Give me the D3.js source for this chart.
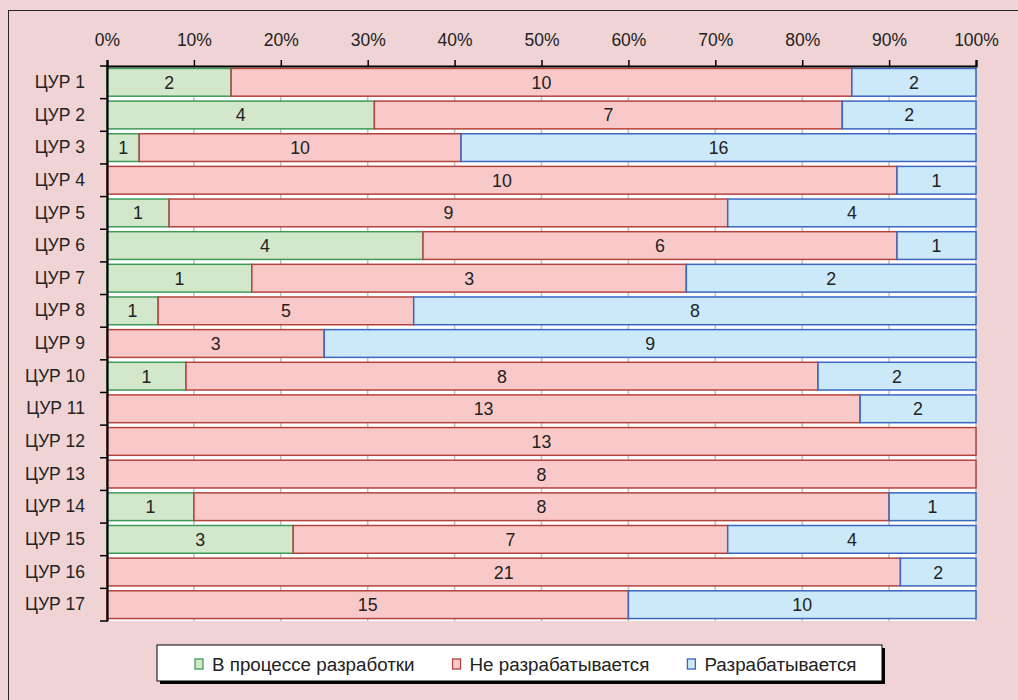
<!DOCTYPE html>
<html>
<head>
<meta charset="utf-8">
<script src="https://cdn.jsdelivr.net/npm/d3@7/dist/d3.min.js"></script>
<style>
  html, body { margin: 0; padding: 0; background: #f0d4d5; }
  svg { display: block; }
  text { font-family: "Liberation Sans", Arial, sans-serif; fill: #222; }
</style>
</head>
<body>
<svg id="chart" width="1018" height="700"></svg>
<script>
// ---- data ----
const categories = ["ЦУР 1","ЦУР 2","ЦУР 3","ЦУР 4","ЦУР 5","ЦУР 6","ЦУР 7","ЦУР 8","ЦУР 9",
  "ЦУР 10","ЦУР 11","ЦУР 12","ЦУР 13","ЦУР 14","ЦУР 15","ЦУР 16","ЦУР 17"];
const seriesNames = ["В процессе разработки", "Не разрабатывается", "Разрабатывается"];
const inProgress    = [2, 4, 1, 0, 1, 4, 1, 1, 0, 1, 0, 0, 0, 1, 3, 0, 0];
const notDeveloped  = [10, 7, 10, 10, 9, 6, 3, 5, 3, 8, 13, 13, 8, 8, 7, 21, 15];
// bar share for ЦУР 8 as drawn corresponds to 11, while its label reads 8
const developed     = [2, 2, 16, 1, 4, 1, 2, 11, 9, 2, 2, 0, 0, 1, 4, 2, 10];
const developedLabels = [2, 2, 16, 1, 4, 1, 2, 8, 9, 2, 2, 0, 0, 1, 4, 2, 10];
const tickValues = [0, 0.1, 0.2, 0.3, 0.4, 0.5, 0.6, 0.7, 0.8, 0.9, 1.0];

const fills   = ["#d3e8cb", "#f9c9c9", "#cce9f9"];
const strokes = ["#3f9a58", "#b3443d", "#3a66c0"];

(function () {
// ---- layout ----
const svg = d3.select("#chart");
const mLeft = 107, mRight = 976, mTop = 66, mBottom = 621;

// outer frame
svg.append("rect").attr("x", 8.5).attr("y", 10.5).attr("width", 1030).attr("height", 720)
  .attr("fill", "#f0d4d5").attr("stroke", "#262626").attr("stroke-width", 1);

const x = d3.scaleLinear().domain([0, 1]).range([mLeft, mRight]);
const y = d3.scaleBand().domain(categories).range([mTop, mBottom]).paddingInner(0.15).paddingOuter(0.075);

// plot area
svg.append("rect").attr("x", mLeft).attr("y", mTop).attr("width", mRight - mLeft).attr("height", mBottom - mTop)
  .attr("fill", "#ffffff");

// gridlines
svg.append("g").selectAll("line").data(tickValues.slice(1)).join("line")
  .attr("x1", d => x(d)).attr("x2", d => x(d)).attr("y1", mTop).attr("y2", mBottom)
  .attr("stroke", "#bfbfbf").attr("stroke-width", 1.5);

// stacked data
const rows = categories.map((c, i) => {
  const vals = [inProgress[i], notDeveloped[i], developed[i]];
  const labels = [inProgress[i], notDeveloped[i], developedLabels[i]];
  const total = d3.sum(vals);
  let acc = 0;
  return vals.map((v, k) => {
    const seg = { cat: c, k, v, label: labels[k], x0: acc / total, x1: (acc + v) / total };
    acc += v;
    return seg;
  }).filter(s => s.v > 0);
});
const segs = rows.flat();

const bars = svg.append("g");
bars.selectAll("rect").data(segs).join("rect")
  .attr("x", d => x(d.x0)).attr("width", d => x(d.x1) - x(d.x0))
  .attr("y", d => y(d.cat)).attr("height", y.bandwidth())
  .attr("fill", d => fills[d.k]).attr("stroke", d => strokes[d.k]).attr("stroke-width", 1.5);

bars.selectAll("text").data(segs).join("text")
  .attr("x", d => (x(d.x0) + x(d.x1)) / 2)
  .attr("y", d => y(d.cat) + y.bandwidth() / 2 + 6.5)
  .attr("text-anchor", "middle").attr("font-size", 17.8)
  .text(d => d.label);

// top axis
const xAxis = d3.axisTop(x).tickValues(tickValues).tickFormat(d3.format(".0%")).tickSize(6).tickPadding(14);
const gx = svg.append("g").attr("transform", `translate(0,${mTop})`).call(xAxis);
gx.select(".domain").attr("stroke", "#000").attr("stroke-width", 2.2);
gx.selectAll(".tick line").attr("stroke", "#000").attr("stroke-width", 1.5);
gx.selectAll(".tick text").attr("font-size", 17.5).attr("font-family", "Liberation Sans, Arial, sans-serif").attr("fill", "#222");

// left axis
const yAxis = d3.axisLeft(y).tickSize(0).tickPadding(22);
const gy = svg.append("g").attr("transform", `translate(${mLeft},0)`).call(yAxis);
gy.select(".domain").attr("stroke", "#000").attr("stroke-width", 2.2);
gy.selectAll(".tick text").attr("font-size", 17.5).attr("font-family", "Liberation Sans, Arial, sans-serif").attr("fill", "#222");
// category boundary ticks
const boundaries = d3.range(categories.length + 1).map(i => mTop + i * (mBottom - mTop) / categories.length);
svg.append("g").selectAll("line").data(boundaries).join("line")
  .attr("x1", mLeft - 7).attr("x2", mLeft).attr("y1", d => d).attr("y2", d => d)
  .attr("stroke", "#000").attr("stroke-width", 1.5);

// legend
const lg = svg.append("g");
const lx = 157, ly = 645, lw = 725, lh = 36;
lg.append("rect").attr("x", lx + 3).attr("y", ly + 3).attr("width", lw).attr("height", lh).attr("fill", "#000");
lg.append("rect").attr("x", lx).attr("y", ly).attr("width", lw).attr("height", lh)
  .attr("fill", "#fff").attr("stroke", "#000").attr("stroke-width", 1);
let cx = 195;
seriesNames.forEach((name, k) => {
  lg.append("rect").attr("x", cx).attr("y", 659).attr("width", 8).attr("height", 10)
    .attr("fill", fills[k]).attr("stroke", strokes[k]).attr("stroke-width", 1.3);
  const t = lg.append("text").attr("x", cx + 17).attr("y", 670.5).attr("font-size", 18.8).text(name);
  cx = cx + 17 + t.node().getComputedTextLength() + 38;
});
})();
</script>
</body>
</html>
